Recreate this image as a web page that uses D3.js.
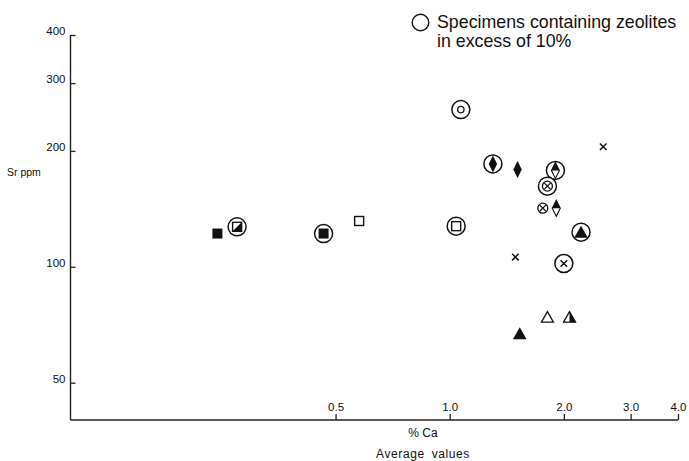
<!DOCTYPE html>
<html>
<head>
<meta charset="utf-8">
<script src="https://cdn.jsdelivr.net/npm/d3@7"></script>
<style>
  html, body { margin: 0; padding: 0; background: #fff; }
  svg { display: block; font-family: "Liberation Sans", Arial, sans-serif; }
</style>
</head>
<body>
<svg id="chart" width="689" height="461"></svg>
<script>
// Average Ca (%) and Sr (ppm) per specimen group
const caPercent = [0.244, 0.275, 0.465, 0.577, 1.04, 1.07, 1.30, 1.51, 1.90, 1.81,
                   2.54, 1.76, 1.91, 2.22, 1.49, 2.00, 1.81, 2.07, 1.53];
const srPpm     = [122, 127, 122, 131.5, 127.5, 256, 185, 179, 178, 162,
                   205, 142, 142, 123, 106, 102, 74, 74, 67];
// Symbol used for each group
const markerKind = ["sqFilled", "sqHalf", "sqFilled", "sqOpen", "sqOpen", "ring", "diamondFilled",
                    "diamondFilled", "diamondHalf", "ringCross", "cross", "ringCross", "diamondHalf",
                    "triFilled", "cross", "cross", "triOpen", "triHalf", "triFilled"];
// Groups with more than 10 % zeolites (drawn inside a circle)
const zeoliteRich = [false, true, true, false, true, true, true, false, true, true,
                     false, false, false, true, false, true, false, false, false];

const xTicks = [0.5, 1.0, 2.0, 3.0, 4.0];
const yTicks = [50, 100, 200, 300, 400];
const legendLines = ["Specimens containing zeolites", "in excess of 10%"];

const svg = d3.select("#chart");
const ink = "#111";

const x = d3.scaleLog().domain([0.1, 4]).range([70.5, 678]);
const y = d3.scaleLog().domain([40, 400]).range([420, 35]);

// Axes: ticks point inward, labels sit outside the tick marks
const xAxis = d3.axisTop(x).tickValues(xTicks).tickFormat(d3.format(".1f"))
  .tickSize(6).tickPadding(4);
const gx = svg.append("g").attr("transform", "translate(0,420)").call(xAxis);
gx.select(".domain").attr("d", `M${x.range()[0]},0H${x.range()[1]}`);

const yAxis = d3.axisLeft(y).tickValues(yTicks).tickFormat(d3.format("d"))
  .tickSize(-5).tickPadding(5);
const gy = svg.append("g").attr("transform", "translate(70.5,0)").call(yAxis);
gy.select(".domain").attr("d", `M0,${y.range()[0]}V${y.range()[1]}`);

svg.selectAll(".domain").attr("stroke", "#222").attr("stroke-width", 1.4);
svg.selectAll(".tick line").attr("stroke", "#222").attr("stroke-width", 1.3);
svg.selectAll(".tick text").attr("fill", ink).attr("font-size", 11.5)
  .attr("font-family", "'Liberation Sans', Arial, sans-serif");
gy.selectAll(".tick text").attr("dy", "-0.05em");
gx.selectAll(".tick text").attr("dy", "0.1em");

// Axis titles
svg.append("text").attr("x", 7).attr("y", 176).attr("font-size", 10.5)
  .attr("fill", ink).text("Sr ppm");
svg.append("text").attr("x", 423).attr("y", 437).attr("text-anchor", "middle")
  .attr("font-size", 12).attr("fill", ink).text("% Ca");
svg.append("text").attr("x", 423).attr("y", 458).attr("text-anchor", "middle")
  .attr("font-size", 12).attr("letter-spacing", 0.6).attr("word-spacing", 3)
  .attr("fill", ink).text("Average values");

// Legend
svg.append("circle").attr("cx", 420.5).attr("cy", 22.5).attr("r", 8.3)
  .attr("fill", "none").attr("stroke", ink).attr("stroke-width", 1.4);
svg.selectAll(".legend-line").data(legendLines).join("text")
  .attr("class", "legend-line")
  .attr("x", 437).attr("y", (d, i) => 28 + i * 19)
  .attr("font-size", 17.8).attr("fill", ink).text(d => d);

// Symbol painters, drawn around the origin of each point group
const painters = {
  sqFilled: g => g.append("rect").attr("x", -5).attr("y", -5).attr("width", 10).attr("height", 10)
    .attr("fill", ink),
  sqOpen: g => g.append("rect").attr("x", -4.5).attr("y", -4.5).attr("width", 9).attr("height", 9)
    .attr("fill", "#fff").attr("stroke", ink).attr("stroke-width", 1.4),
  sqHalf: g => {
    g.append("rect").attr("x", -4.5).attr("y", -4.5).attr("width", 9).attr("height", 9)
      .attr("fill", "#fff").attr("stroke", ink).attr("stroke-width", 1.4);
    g.append("path").attr("d", "M4.5,-4.5L4.5,4.5L-4.5,4.5Z").attr("fill", ink);
  },
  ring: g => g.append("circle").attr("r", 3.2).attr("fill", "none")
    .attr("stroke", ink).attr("stroke-width", 1.3),
  diamondFilled: g => g.append("path").attr("d", "M0,-8.5L4.2,0L0,8.5L-4.2,0Z").attr("fill", ink),
  diamondHalf: g => {
    g.append("path").attr("d", "M0,-8L4,0L0,8L-4,0Z").attr("fill", "#fff")
      .attr("stroke", ink).attr("stroke-width", 1.1);
    g.append("path").attr("d", "M0,-8L4,0L-4,0Z").attr("fill", ink);
  },
  cross: g => g.append("path").attr("d", "M-3.3,-3.3L3.3,3.3M3.3,-3.3L-3.3,3.3")
    .attr("stroke", ink).attr("stroke-width", 1.5),
  ringCross: g => {
    g.append("circle").attr("r", 5).attr("fill", "#fff").attr("stroke", ink).attr("stroke-width", 1.3);
    g.append("path").attr("d", "M-3,-3L3,3M3,-3L-3,3").attr("stroke", ink).attr("stroke-width", 1.3);
  },
  triFilled: g => g.append("path").attr("d", "M0,-6.5L6.8,5.5L-6.8,5.5Z").attr("fill", ink),
  triOpen: g => g.append("path").attr("d", "M0,-5.5L6,5L-6,5Z").attr("fill", "#fff")
    .attr("stroke", ink).attr("stroke-width", 1.3),
  triHalf: g => {
    g.append("path").attr("d", "M0,-5.5L6,5L-6,5Z").attr("fill", "#fff")
      .attr("stroke", ink).attr("stroke-width", 1.3);
    g.append("path").attr("d", "M0,-5.5L6,5L0,5Z").attr("fill", ink);
  }
};

const points = caPercent.map((c, i) => ({ ca: c, sr: srPpm[i], kind: markerKind[i], rich: zeoliteRich[i] }));

const marks = svg.append("g").selectAll("g").data(points).join("g")
  .attr("transform", d => `translate(${x(d.ca)},${y(d.sr)})`);

marks.each(function (d) {
  const g = d3.select(this);
  if (d.rich) {
    g.append("circle").attr("r", 9).attr("fill", "#fff")
      .attr("stroke", ink).attr("stroke-width", 1.5);
  }
  painters[d.kind](g);
});
</script>
</body>
</html>
